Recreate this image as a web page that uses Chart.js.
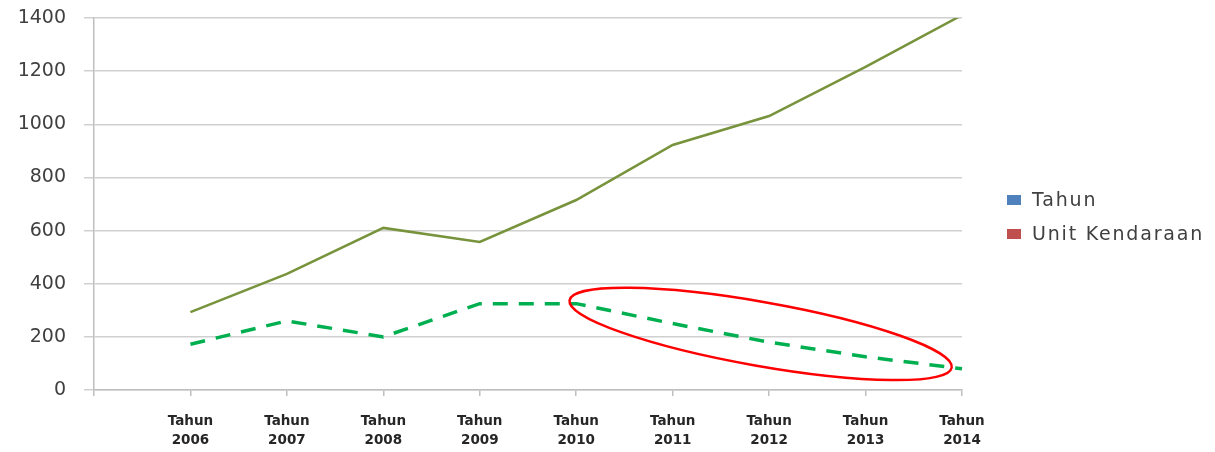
<!DOCTYPE html>
<html>
<head>
<meta charset="utf-8">
<script src="https://cdn.jsdelivr.net/npm/chart.js@4.4.1/dist/chart.umd.min.js"></script>
<style>
  html, body { margin: 0; padding: 0; background: #fff; }
  #wrap { width: 1215px; height: 452px; position: relative; }
</style>
</head>
<body>
<div id="wrap"><canvas id="chart"></canvas></div>
<script>
var years = ['2006', '2007', '2008', '2009', '2010', '2011', '2012', '2013', '2014'];
var solidValues = [293, 437, 610, 557, 715, 922, 1031, 1216, 1411];
var dashedValues = [172, 260, 200, 325, 325, 250, 180, 125, 80];
var yTicks = [0, 200, 400, 600, 800, 1000, 1200, 1400];
var legendNames = ['Tahun', 'Unit Kendaraan'];
var legendColors = ['#4f81bd', '#c0504d'];

// first slot of the category axis is empty, like the original sheet
var labels = [''].concat(years.map(function (y) { return ['Tahun', y]; }));

// red ring drawn by hand over the falling part of the dashed line
const ringPlugin = {
    id: 'ring',
    afterDatasetsDraw: function (chart) {
        var xs = chart.scales.x, ys = chart.scales.y;
        var x1 = xs.getPixelForValue(5), x2 = xs.getPixelForValue(9);
        var cx = x1 + (x2 - x1) * 0.478;
        var cy = ys.getPixelForValue(211);
        var c = chart.ctx;
        c.save();
        c.strokeStyle = '#ff0000';
        c.lineWidth = 2.5;
        c.beginPath();
        c.ellipse(cx, cy, 194, 32, 10 * Math.PI / 180, 0, Math.PI * 2);
        c.stroke();
        c.restore();
    }
};

// legend on the right, drawn beside the chart area
const sideLegend = {
    id: 'sideLegend',
    afterDraw: function (chart) {
        var c = chart.ctx;
        var x = chart.chartArea.right + 45;
        var y = 200;
        c.save();
        c.font = '19px "DejaVu Sans"';
        c.letterSpacing = '1.8px';
        c.textBaseline = 'middle';
        legendNames.forEach(function (name, i) {
            var yy = y + i * 34;
            c.fillStyle = legendColors[i];
            c.fillRect(x, yy - 5, 14, 10);
            c.fillStyle = '#404040';
            c.fillText(name, x + 25, yy + 1);
        });
        c.restore();
    }
};

const ctx = document.getElementById('chart').getContext('2d');
const chart = new Chart(ctx, {
    type: 'line',
    data: {
        labels: labels,
        datasets: [{
            label: legendNames[0],
            data: [null].concat(solidValues),
            borderColor: '#77933c',
            borderWidth: 2.5,
            pointRadius: 0,
            tension: 0
        }, {
            label: legendNames[1],
            data: [null].concat(dashedValues),
            borderColor: '#00b050',
            borderWidth: 3.5,
            borderDash: [15, 11],
            pointRadius: 0,
            tension: 0
        }]
    },
    options: {
        responsive: true,
        maintainAspectRatio: false,
        animation: false,
        layout: { padding: { top: 18, right: 253, bottom: 0, left: 18 } },
        plugins: {
            tooltip: { enabled: false },
            legend: { display: false }
        },
        scales: {
            x: {
                offset: false,
                afterFit: function (scale) {
                    scale.height = 62;
                    scale.paddingTop = 0;
                },
                grid: {
                    drawOnChartArea: false,
                    drawTicks: true,
                    tickLength: 6,
                    color: '#bfbfbf',
                    lineWidth: 1.5
                },
                border: { color: '#bfbfbf', width: 1.5 },
                ticks: {
                    autoSkip: false,
                    maxRotation: 0,
                    padding: 16,
                    color: '#262626',
                    font: { family: 'DejaVu Sans', size: 13.5, weight: 'bold', lineHeight: 1.4 }
                }
            },
            y: {
                min: 0,
                max: 1400,
                afterFit: function (scale) {
                    scale.width = 76;
                    scale.paddingTop = 0;
                    scale.paddingBottom = 0;
                },
                afterBuildTicks: function (axis) {
                    axis.ticks = yTicks.map(function (v) { return { value: v }; });
                },
                grid: {
                    color: '#d0d0d0',
                    lineWidth: 1.5,
                    tickLength: 10
                },
                border: { color: '#bfbfbf', width: 1.5 },
                ticks: {
                    padding: 18,
                    color: '#404040',
                    font: { family: 'DejaVu Sans', size: 19 },
                    callback: function (v) { return String(v); }
                }
            }
        }
    },
    plugins: [ringPlugin, sideLegend]
});
</script>
</body>
</html>
